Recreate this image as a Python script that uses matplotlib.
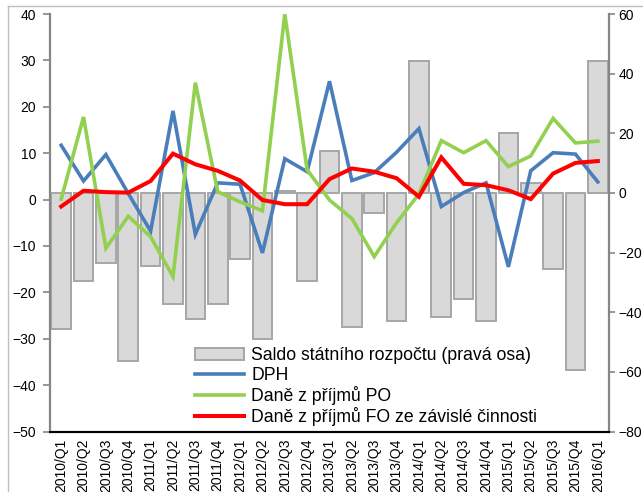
import matplotlib
matplotlib.use("Agg")
import matplotlib.pyplot as plt
from matplotlib.patches import Patch
from matplotlib.lines import Line2D

plt.rcParams['font.family'] = ['Liberation Sans', 'DejaVu Sans']

categories = ["2010/Q1", "2010/Q2", "2010/Q3", "2010/Q4",
              "2011/Q1", "2011/Q2", "2011/Q3", "2011/Q4",
              "2012/Q1", "2012/Q2", "2012/Q3", "2012/Q4",
              "2013/Q1", "2013/Q2", "2013/Q3", "2013/Q4",
              "2014/Q1", "2014/Q2", "2014/Q3", "2014/Q4",
              "2015/Q1", "2015/Q2", "2015/Q3", "2015/Q4",
              "2016/Q1"]

saldo = [-45.5, -29.6, -23.4, -56.2, -24.6, -37.4, -42.2, -37.4, -22.1, -48.9,
         0.8, -29.6, 13.9, -44.9, -6.7, -42.8, 44.1, -41.5, -35.5, -42.8,
         20.1, 3.3, -25.5, -59.5, 44.1]
dph = [11.7, 4.0, 9.7, 1.3, -6.8, 19.1, -7.5, 3.6, 3.3, -11.5,
       8.8, 6.0, 25.5, 4.1, 5.8, 10.2, 15.3, -1.5, 1.5, 3.6,
       -14.5, 6.2, 10.1, 9.8, 3.8]
po = [0.1, 17.8, -10.5, -3.6, -8.0, -16.6, 25.2, 1.7, -0.5, -2.4,
      40.0, 6.4, -0.1, -4.1, -12.3, -5.0, 1.2, 12.7, 10.1, 12.7,
      7.1, 9.4, 17.5, 12.2, 12.6]
fo = [-1.5, 1.9, 1.6, 1.5, 4.0, 9.9, 7.6, 6.2, 4.1, -0.1,
      -1.0, -1.0, 4.4, 6.7, 6.0, 4.6, 0.6, 9.1, 3.4, 3.1,
      2.0, 0.1, 5.6, 7.9, 8.3]

labels = ["Saldo státního rozpočtu (pravá osa)", "DPH",
          "Daně z příjmů PO", "Daně z příjmů FO ze závislé činnosti"]

W, H = 643, 492
fig = plt.figure(figsize=(W / 100, H / 100), dpi=100)
ax1 = fig.add_axes([50 / W, 1 - 431.5 / H, (609 - 50) / W, (431.5 - 14) / H])
ax2 = ax1.twinx()

x = list(range(len(categories)))
bar_fc = '#D9D9D9'
bar_ec = '#A6A6A6'
ax2.bar(x, saldo, width=0.88, color=bar_fc, edgecolor=bar_ec, linewidth=1.4)

c_blue = '#4A7EBB'
c_green = '#92D050'
c_red = '#FF0000'
ax1.plot(x, dph, color=c_blue, lw=2.6, solid_joinstyle='miter')
ax1.plot(x, po, color=c_green, lw=2.6, solid_joinstyle='miter')
ax1.plot(x, fo, color=c_red, lw=2.9, solid_joinstyle='miter')

ax1.set_zorder(ax2.get_zorder() + 1)
ax1.patch.set_visible(False)

ax1.set_xlim(-0.5, len(categories) - 0.5)
ax1.set_ylim(-50, 40)
ax2.set_ylim(-80, 60)
ax1.set_yticks(range(-50, 41, 10))
ax2.set_yticks(range(-80, 61, 20))
ax1.set_xticks(x)
ax1.set_xticklabels(categories, rotation=90, fontsize=10)

grey = '#868686'
for ax in (ax1, ax2):
    ax.spines['top'].set_visible(False)
    ax.spines['left'].set_color(grey)
    ax.spines['right'].set_color(grey)
    ax.spines['left'].set_linewidth(1.6)
    ax.spines['right'].set_linewidth(1.6)
    ax.spines['bottom'].set_color('black')
    ax.spines['bottom'].set_linewidth(1.5)
ax1.spines['right'].set_visible(False)
ax2.spines['left'].set_visible(False)

ax1.tick_params(axis='y', direction='out', length=5, width=1.2, color=grey,
                pad=5, labelsize=10)
ax2.tick_params(axis='y', direction='out', length=4, width=1.2, color=grey,
                pad=3, labelsize=10)
ax1.tick_params(axis='x', length=0, pad=5)

handles = [Patch(facecolor=bar_fc, edgecolor=bar_ec, linewidth=1.4),
           Line2D([], [], color=c_blue, lw=2.6),
           Line2D([], [], color=c_green, lw=2.6),
           Line2D([], [], color=c_red, lw=2.9)]
leg = ax1.legend(handles, labels, loc='upper left',
                 bbox_to_anchor=(195 / W, 1 - 347.5 / H), bbox_transform=fig.transFigure,
                 frameon=False, fontsize=12.7, borderpad=0, borderaxespad=0,
                 handlelength=2.75, handleheight=0.65, handletextpad=0.45,
                 labelspacing=0.13)

# outer chart frame
fig.add_artist(Line2D([8 / W, 8 / W], [0, 1 - 6 / H], transform=fig.transFigure,
                      color='#BFBFBF', lw=1))
fig.add_artist(Line2D([8 / W, 1], [1 - 6 / H, 1 - 6 / H], transform=fig.transFigure,
                      color='#BFBFBF', lw=1))

fig.savefig('out.png', dpi=100)
